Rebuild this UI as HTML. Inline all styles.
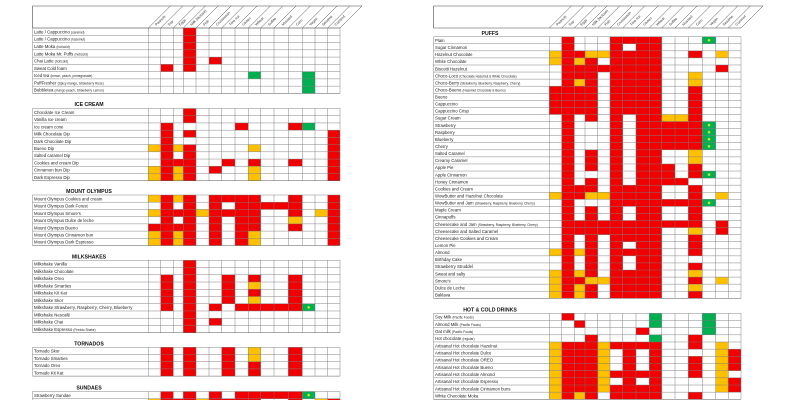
<!DOCTYPE html>
<html><head><meta charset="utf-8"><style>
html,body{margin:0;padding:0;background:#fff;width:800px;height:400px;overflow:hidden}
svg{display:block}
text{font-family:"Liberation Sans",sans-serif}
</style></head><body>
<svg id="s" width="800" height="400" xmlns="http://www.w3.org/2000/svg"></svg>
<script>
const S=document.getElementById('s');let h='';
const COL={r:'#f00000',y:'#ffc000',g:'#00b050',v:'#00b050'};
const heads=['Peanuts','Soy','Eggs','Milk (lactose)','Fish','Crustacean','Tree nut','Gluten','Wheat','Sulfite','Mustard','Corn','Vegan','Sesame','Coconut'];
function row(spec){
  let a=Array(15).fill('.');
  spec.split(',').filter(x=>x).forEach(t=>{let[p,c]=t.split(':');c=c||'r';
    if(p.includes('-')){let[s,e]=p.split('-').map(Number);for(let i=s;i<=e;i++)a[i]=c;}else a[+p]=c;});
  return a;
}
function lbl(s){let i=s.indexOf(' (');if(i<0)return s;return s.slice(0,i)+' <tspan font-size="3.2">'+s.slice(i+1)+'</tspan>';}
function table(xs,labelX,sections){
  const yT=6,yB=28,dx=22;
  const xr=xs[xs.length-1];
  h+=`<line x1="${labelX}" y1="${yT}" x2="${xr+dx}" y2="${yT}" stroke="#444" stroke-width="0.6"/>`;
  h+=`<line x1="${labelX}" y1="${yT}" x2="${labelX}" y2="${yB}" stroke="#444" stroke-width="0.6"/>`;
  h+=`<line x1="${labelX}" y1="${yB}" x2="${xr}" y2="${yB}" stroke="#444" stroke-width="0.6"/>`;
  xs.forEach(x=>{h+=`<line x1="${x}" y1="${yB}" x2="${x+dx}" y2="${yT}" stroke="#444" stroke-width="0.5"/>`;});
  for(let i=0;i<15;i++){let cx=(xs[i]+xs[i+1])/2+2,cy=yB-2;
    h+=`<text x="${cx}" y="${cy}" font-size="3.6" fill="#333" transform="rotate(-45 ${cx} ${cy})">${heads[i]}</text>`;}
  sections.forEach(sec=>{
    if(sec.title){h+=`<text x="${sec.tx}" y="${sec.ty}" font-size="5.2" font-weight="bold" fill="#111" text-anchor="middle">${sec.title}</text>`;}
    let y=sec.y,rh=sec.rh;
    sec.rows.forEach(r=>{
      const a=row(r[1]);
      for(let i=0;i<15;i++){if(a[i]!='.'){h+=`<rect x="${xs[i]}" y="${y}" width="${xs[i+1]-xs[i]}" height="${rh}" fill="${COL[a[i]]}"/>`;
        if(a[i]=='v')h+=`<circle cx="${(xs[i]+xs[i+1])/2}" cy="${y+rh/2}" r="1.3" fill="#c8e62a"/>`;}}
      h+=`<text x="${labelX+1.5}" y="${y+rh-1.8}" font-size="4.3" fill="#222">${lbl(r[0])}</text>`;
      h+=`<line x1="${labelX}" y1="${y}" x2="${xr}" y2="${y}" stroke="#777" stroke-width="0.45"/>`;
      y+=rh;
    });
    h+=`<line x1="${labelX}" y1="${y}" x2="${xr}" y2="${y}" stroke="#555" stroke-width="0.5"/>`;
    [labelX].concat(xs).forEach(x=>{h+=`<line x1="${x}" y1="${sec.y}" x2="${x}" y2="${y}" stroke="#777" stroke-width="0.45"/>`;});
  });
}
const L=[148.3,160.7,173.3,183.3,196,209,221.7,235,248.3,260.7,274,288.3,302.3,315,327.7,340];
table(L,32.5,[
 {y:28,rh:7.27,rows:[['Latte / Cappuccino (caramel)','3'],['Latte / Cappuccino (hazelnut)','3'],['Latte Moka (hot/cold)','3'],['Latte Moka Mr. Puffs (hot/cold)','3'],['Chai Latte (hot/cold)','3,5'],['Sweat Cold foam','1,3'],['Iced tea (lemon, peach, pomegranate)','8:g,12:g'],['PuffFresher (Spicy mango, Strawberry Rose)','12:g'],['Bubbletea (mango peach, Strawberry Lemon)','12:g']]},
 {title:'ICE CREAM',tx:89,ty:106,y:108.5,rh:7.22,rows:[['Chocolate Ice Cream','3'],['Vanilla Ice cream','3'],['Ice cream cone','1,7,11,12:g'],['Milk Chocolate Dip','1,3,14'],['Dark Chocolate Dip','1,14'],['Bueno Dip','0:y,1,2:y,3,8:y,14'],['Salted caramel Dip','1,3,14'],['Cookies and cream Dip','1,2,3,6,8,11,14'],['Cinnamon bun Dip','0:y,1,2:y,3,5,8:y,14'],['Dark Espresso Dip','0:y,1,2:y,3,8:y,14']]},
 {title:'MOUNT OLYMPUS',tx:89,ty:193,y:195,rh:7.22,rows:[['Mount Olympus Cookies and cream','0:y,1,2:y,3,5-8,11,14'],['Mount Olympus Dark Forest','1,3,5,7-11,14'],['Mount Olympus Smore\'s','0:y,1,2,3,4:y,5-8,11,13:y,14'],['Mount Olympus Dulce de leche','1,3,5,7,8,11:y,14'],['Mount Olympus Bueno','0,1,2,3,5,7,8,11,14'],['Mount Olympus Cinnamon bun','0:y,1,2:y,3,5,7,8:y,14'],['Mount Olympus Dark Espresso','0:y,1,2:y,3,5,7,8:y,14']]},
 {title:'MILKSHAKES',tx:89,ty:258.5,y:260.3,rh:7.24,rows:[['Milkshake Vanilla','3'],['Milkshake Chocolate','3'],['Milkshake Oreo','1,3,6,8,11'],['Milkshake Smarties','1,3,6,8:y,11'],['Milkshake Kit Kat','1,3,6,8,11'],['Milkshake Skor','1,3,6,8:y,11'],['Milkshake Strawberry, Raspberry, Cherry, Blueberry','1,3,5,7-11,12:v'],['Milkshake Nescafé','3'],['Milkshake Chai','3,5'],['Milkshake Espresso (Freddo Shake)','3']]},
 {title:'TORNADOS',tx:89,ty:345.5,y:347.3,rh:7.2,rows:[['Tornado Skor','1,3,6,8:y,11'],['Tornado Smarties','1,3,6,8:y,11'],['Tornado Oreo','1,3,6,8,11'],['Tornado Kit Kat','1,3,6,8,11']]},
 {title:'SUNDAES',tx:89,ty:389.5,y:391.5,rh:7.2,rows:[['Strawberry Sundae','1,3,5,7-11,12:v'],['Chocolate Sundae','0:y,1,2,3,4:y,5,6,7,8,11,13:y,14']]}
]);
const R=[549.3,561.7,574.3,585,597.7,610,622.7,636,649.3,661.7,675,688.3,702.3,715.7,728.3,741];
table(R,433.5,[
 {title:'PUFFS',tx:490,ty:35,y:36.7,rh:7.07,rows:[['Plain','1,5-8,12:v'],['Sugar Cinnamon','1,5,7,8'],['Hazelnut Chocolate','0:y,1,2,3:y,4:y,5-8,11,13:y'],['White Chocolate','0:y,1,2:y,3,5-8'],['Biscotti Hazelnut','1-8,13'],['Choco-Loco (Chocolate Hazelnut & White Chocolate)','1,2,3,5-8,11:y'],['Choco-Berry (Strawberry, Blueberry, Raspberry, Cherry)','1,2:y,3,5-8,11:y'],['Choco-Bueno (Hazelnut Chocolate & Bueno)','0-3,5-8,11'],['Bueno','0-3,5-8,11'],['Cappuccino','0-3,5-8,11'],['Cappuccino Crisp','0-3,5-8,11'],['Sugar Cream','1,3,5,7,8,9:y,10:y,11'],['Strawberry','1,5,7-11,12:v'],['Raspberry','1,5,7-11,12:v'],['Blueberry','1,5,7-11,12:v'],['Cherry','1,5,7-11,12:v'],['Salted Caramel','1,3,5,7,8,11:y'],['Creamy Caramel','1,3,5,7,8,11:y'],['Apple Pie','1,3,5,7,8,9,11'],['Apple Cinnamon','1,5,7,8,9,11,12:v'],['Honey Cinnamon','1,3,5,7-10'],['Cookies and Cream','1,2,3,5-8,11'],['WowButter and Hazelnut Chocolate','0:y,1,2,3:y,4:y,5-8,11,13:y'],['WowButter and Jam (Strawberry, Raspberry, Blueberry, Cherry)','1,5-11,12:v'],['Maple Cream','1,3,5,7,8,11'],['Cinnapuffs','1,3,5,7,8,11'],['Cheesecake and Jam (Strawberry, Raspberry, Blueberry, Cherry)','1-11,13'],['Cheesecake and Salted Caramel','1-8,11:y,13'],['Cheesecake Cookies and Cream','1,3,5-8,11'],['Lemon Pie','1,3,5,7,8,11'],['Almond','0:y,1,2:y,3,5-8,11'],['Birthday Cake','1,3,5,7,8'],['Strawberry Struddel','1,3,5,7,8,11'],['Sweat and salty','0:y,1,2:y,3,5-8,11:y'],['Smore\'s','0:y,1,2,3:y,4:y,5-8,11,13:y'],['Dulce de Leche','0:y,1,2:y,3,5-8,11:y'],['Baklava','0:y,1,2:y,3,5-8,11']]},
 {title:'HOT & COLD DRINKS',tx:490,ty:311.5,y:313.3,rh:7.17,rows:[['Soy Milk (Pacific Foods)','1,8:g,12:g'],['Almond Milk (Pacific Foods)','2,8:g,12:g'],['Oat milk (Pacific Foods)','7,12:g'],['Hot chocolate (regular)','3,8:g,11'],['Artisanal Hot chocolate Hazelnut','0:y,1-3,4:y,5-8,11,13:y'],['Artisanal Hot chocolate Dulce','0:y,1-3,4:y,6,8,13:y,14'],['Artisanal Hot chocolate OREO','0:y,1-3,4:y,6,8,11,13:y,14'],['Artisanal Hot chocolate Bueno','0:y,1-3,4:y,6,8,11,13:y,14'],['Artisanal Hot chocolate Almond','0:y,1-3,4:y,5-8,11,13:y'],['Artisanal Hot chocolate Espresso','0:y,1-3,4:y,6,8,13:y,14'],['Artisanal Hot chocolate Cinnamon buns','0:y,1-3,4:y,5-8,13:y,14'],['White Chocolate Moka','0:y,1,2:y,3,5-8,11']]}
]);
S.innerHTML=h;
</script>
</body></html>
